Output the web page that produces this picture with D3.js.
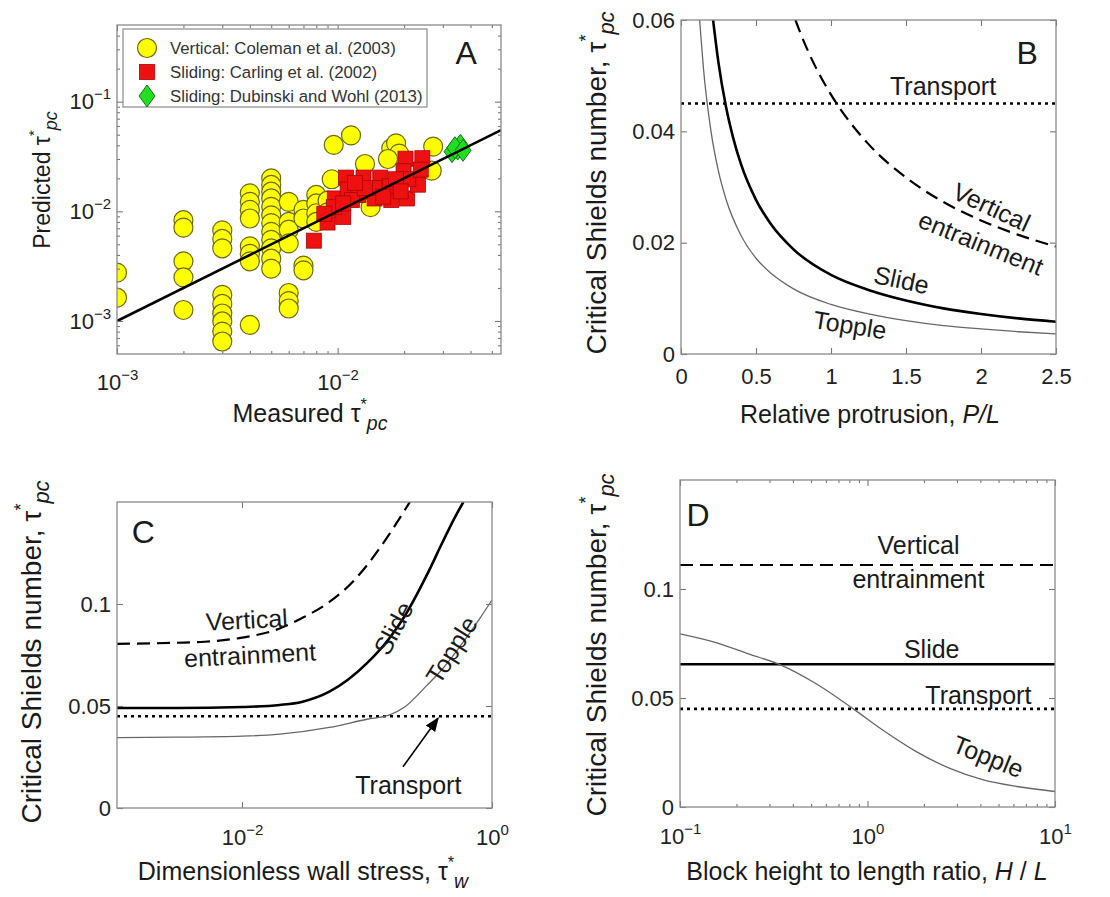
<!DOCTYPE html>
<html>
<head>
<meta charset="utf-8">
<title>Block entrainment thresholds</title>
<style>
body{margin:0;background:#fff;}
svg{font-family:"Liberation Sans",Arial,sans-serif;}
</style>
<script src="https://cdn.jsdelivr.net/npm/d3@7"></script>
</head>
<body>
<script>
// ---------- panel A : measured vs predicted ----------
var colemanPts = [ // Vertical: Coleman et al. (2003)
	[0.001,0.00276],[0.001,0.00163],
	[0.002,0.0083],[0.002,0.0071],[0.002,0.0035],[0.002,0.0025],[0.002,0.00126],
	[0.003,0.0067],[0.003,0.0056],[0.003,0.0046],[0.003,0.00173],[0.003,0.00143],[0.003,0.00117],
	[0.003,0.00099],[0.003,0.0008],[0.003,0.00065],
	[0.004,0.0146],[0.004,0.0122],[0.004,0.0103],[0.004,0.0086],[0.004,0.0048],[0.004,0.0041],
	[0.004,0.0035],[0.004,0.00092],
	[0.005,0.0200],[0.005,0.0174],[0.005,0.0151],[0.005,0.0131],[0.005,0.0110],[0.005,0.0092],
	[0.005,0.0078],[0.005,0.0065],[0.005,0.0055],[0.005,0.0046],[0.005,0.0037],[0.005,0.0030],
	[0.006,0.0122],[0.006,0.0080],[0.006,0.0068],[0.006,0.0051],[0.006,0.0018],[0.006,0.00152],[0.006,0.0013],
	[0.007,0.0103],[0.007,0.0086],[0.007,0.0032],[0.007,0.0029],
	[0.008,0.0141],[0.008,0.0118],[0.008,0.0096],[0.008,0.0080],
	[0.009,0.0125],[0.009,0.0098],
	[0.0096,0.0403],[0.0115,0.0493],[0.0094,0.0196],[0.0133,0.0270],[0.0141,0.0109],
	[0.0175,0.0375],[0.0184,0.0417],[0.0190,0.0336],[0.0169,0.0300],
	[0.0271,0.0389],[0.0267,0.0235]
];
var carlingPts = [ // Sliding: Carling et al. (2002)
	[0.0078,0.0054],[0.0090,0.0079],[0.0106,0.0089],[0.0097,0.0131],[0.0109,0.0203],[0.0131,0.0203],
	[0.0111,0.0158],[0.0124,0.0141],[0.0147,0.0131],[0.0156,0.0203],[0.0175,0.0127],[0.0172,0.0169],
	[0.0203,0.0302],[0.0242,0.0305],[0.0199,0.0232],[0.0206,0.0131],[0.0231,0.0175],[0.0209,0.0196],
	[0.0184,0.0196],[0.0147,0.0163],[0.0116,0.0127],[0.0133,0.0163],[0.0096,0.0109],[0.0087,0.0095],
	[0.0238,0.0240],[0.0161,0.0136],[0.0120,0.0182],[0.0193,0.0152],[0.0106,0.0118]
];
var dubinskiPts = [ // Sliding: Dubinski and Wohl (2013)
	[0.033,0.035],[0.035,0.037],[0.036,0.040],[0.034,0.038],[0.037,0.036]
];
var oneToOne = [[0.001,0.001],[0.055,0.055]];
var legendNames = ["Vertical: Coleman et al. (2003)", "Sliding: Carling et al. (2002)", "Sliding: Dubinski and Wohl (2013)"];

// ---------- panel B : relative protrusion ----------
var protSlide = [[0.214,0.060],[0.25,0.0523],[0.3,0.0444],[0.35,0.0386],[0.4,0.0341],[0.5,0.0277],[0.6,0.0233],
	[0.75,0.0188],[1.0,0.0142],[1.25,0.0115],[1.5,0.0096],[1.75,0.0082],[2.0,0.0072],[2.25,0.0064],[2.5,0.0058]];
var protTopple = [[0.124,0.060],[0.15,0.0512],[0.2,0.0400],[0.25,0.0328],[0.3,0.0278],[0.4,0.0213],[0.5,0.0172],
	[0.6,0.0145],[0.75,0.0117],[1.0,0.0089],[1.25,0.0072],[1.5,0.0060],[1.75,0.0051],[2.0,0.0045],[2.25,0.0040],[2.5,0.0036]];
var protVertical = [[0.763,0.060],[0.8,0.0574],[0.9,0.0514],[1.0,0.0466],[1.25,0.0377],[1.5,0.0317],[1.75,0.0273],
	[2.0,0.0240],[2.25,0.0214],[2.5,0.0193]];
var protTransport = [[0,0.045],[2.5,0.045]];

// ---------- panel C : wall stress ----------
var wallSlide = [[0.001,0.049],[0.003,0.049],[0.01,0.0495],[0.02,0.0505],[0.03,0.052],[0.05,0.057],[0.1,0.071],
	[0.15,0.083],[0.2,0.094],[0.3,0.114],[0.4,0.130],[0.5,0.142],[0.59,0.150]];
var wallVertical = [[0.001,0.0805],[0.003,0.081],[0.005,0.0815],[0.01,0.0835],[0.02,0.088],[0.03,0.093],[0.05,0.101],
	[0.08,0.112],[0.1,0.119],[0.15,0.134],[0.22,0.150]];
var wallTopple = [[0.001,0.0345],[0.003,0.0347],[0.01,0.0352],[0.02,0.0362],[0.05,0.0395],[0.1,0.0435],[0.15,0.0455],
	[0.2,0.0495],[0.3,0.060],[0.4,0.068],[0.6,0.082],[0.8,0.093],[1.0,0.102]];
var wallTransport = [[0.001,0.045],[1,0.045]];

// ---------- panel D : height to length ratio ----------
var ratioTopple = [[0.1,0.0794],[0.157,0.0753],[0.236,0.070],[0.341,0.0653],[0.535,0.0564],[0.84,0.045],[1.21,0.0352],
	[1.83,0.0253],[2.75,0.0177],[4.15,0.0124],[6.25,0.0094],[10,0.0071]];
var ratioSlide = [[0.1,0.0655],[10,0.0655]];
var ratioVertical = [[0.1,0.111],[10,0.111]];
var ratioTransport = [[0.1,0.045],[10,0.045]];

// tick labels
var ticksAx = [1e-3,1e-2], ticksAy = [1e-3,1e-2,1e-1];
var ticksBx = [0,0.5,1,1.5,2,2.5], ticksBy = [0,0.02,0.04,0.06];
var ticksCx = [1e-2,1], ticksCy = [0,0.05,0.1];
var ticksDx = [0.1,1,10], ticksDy = [0,0.05,0.1];

var W = 1110, H = 897;
var svg = d3.select("body").append("svg").attr("width", W).attr("height", H);
var clipN = 0;

function makePanel(b, xs, ys){
	var p = {b:b, x:xs.range([b.l,b.r]), y:ys.range([b.b,b.t])};
	p.g = svg.append("g");
	var id = "clip" + (clipN++);
	p.g.append("clipPath").attr("id", id).append("rect")
		.attr("x", b.l).attr("y", b.t).attr("width", b.r-b.l).attr("height", b.b-b.t);
	p.plot = p.g.append("g").attr("clip-path", "url(#" + id + ")");
	return p;
}

function minorLog(dom){
	var out = [];
	for(var k = -5; k <= 2; k++){
		for(var m = 2; m <= 9; m++){
			var v = m*Math.pow(10,k);
			if(v > dom[0]*1.0001 && v < dom[1]*0.9999) out.push(v);
		}
	}
	return out;
}

function powLabel(d){
	var e = Math.round(Math.log10(d));
	var t = d3.select(this).text(null);
	t.append("tspan").text("10");
	t.append("tspan").attr("dy", -10).attr("font-size", 15).text(e < 0 ? "\u2212" + (-e) : e);
}

function styleAxis(a){
	a.select(".domain").remove();
	a.attr("font-size", 22).attr("font-family", null);
	a.selectAll("line").attr("stroke", "#777").attr("stroke-width", 1.1);
	a.selectAll("text").attr("fill", "#222");
}

function axes(p, o){
	var b = p.b, g = p.g;
	var sides = [
		["bottom", b.b, true, "x", o.xt, o.xf, o.xpad, o.xlog],
		["top", b.t, false, "x", o.xt],
		["left", b.l, true, "y", o.yt, o.yf, 6, o.ylog],
		["right", b.r, false, "y", o.yt]
	];
	function mk(side){
		if(side == "bottom") return d3.axisBottom(p.x);
		if(side == "top") return d3.axisTop(p.x);
		if(side == "left") return d3.axisLeft(p.y);
		return d3.axisRight(p.y);
	}
	sides.forEach(function(s){
		var tr = s[3] == "x" ? "translate(0," + s[1] + ")" : "translate(" + s[1] + ",0)";
		var ax = mk(s[0]).tickValues(s[4]).tickSize(-6);
		if(s[2]) ax.tickPadding(s[6]).tickFormat(s[7] ? function(){return "";} : s[5]);
		else ax.tickFormat("");
		var a = g.append("g").attr("transform", tr).call(ax);
		styleAxis(a);
		if(s[2] && s[7]) a.selectAll(".tick text").each(powLabel);
		var mn = s[3] == "x" ? o.xminor : o.yminor;
		if(mn){
			var a2 = g.append("g").attr("transform", tr).call(mk(s[0]).tickValues(mn).tickSize(-3).tickFormat(""));
			styleAxis(a2);
		}
	});
	g.append("rect").attr("x", b.l).attr("y", b.t).attr("width", b.r-b.l).attr("height", b.b-b.t)
		.attr("fill", "none").attr("stroke", "#8a8a8a").attr("stroke-width", 1.3);
}

function tauText(sel, pre, sub, size){
	sel.attr("font-size", size).attr("fill", "#1a1a1a");
	sel.append("tspan").text(pre + "\u03c4");
	sel.append("tspan").attr("dy", -size*0.5).attr("font-size", size*0.65).text("*");
	sel.append("tspan").attr("dy", size*0.8).attr("font-size", size*0.78)
		.attr("font-style", "italic").text(sub);
}

function drawLine(p, data, kind){
	var line = d3.line().x(function(d){return p.x(d[0]);}).y(function(d){return p.y(d[1]);})
		.curve(d3.curveMonotoneX);
	var path = p.plot.append("path").datum(data).attr("d", line).attr("fill", "none").attr("stroke", "#000");
	if(kind == "slide") path.attr("stroke-width", 2.6);
	if(kind == "topple") path.attr("stroke", "#666").attr("stroke-width", 1.3);
	if(kind == "vertical") path.attr("stroke-width", 2.2).attr("stroke-dasharray", "13,7");
	if(kind == "transport") path.attr("stroke-width", 2.6).attr("stroke-dasharray", "3,4");
	return path;
}

// annotation centred on a data point
function note(p, x, y, txt, rot, size){
	return p.g.append("text")
		.attr("transform", "translate(" + p.x(x) + "," + p.y(y) + ") rotate(" + (rot||0) + ")")
		.attr("text-anchor", "middle").attr("dy", "0.35em")
		.attr("font-size", size||24).attr("fill", "#1a1a1a").text(txt);
}

function yLabel(x, y){
	return svg.append("text").attr("transform", "translate(" + x + "," + y + ") rotate(-90)")
		.attr("text-anchor", "middle");
}

// ================= A =================
var pA = makePanel({l:117, r:501, t:25, b:354}, d3.scaleLog().domain([1e-3,0.055]), d3.scaleLog().domain([5e-4,0.5]));
pA.plot.selectAll(".cole").data(colemanPts).enter().append("circle")
	.attr("cx", function(d){return pA.x(d[0]);}).attr("cy", function(d){return pA.y(d[1]);}).attr("r", 9.5)
	.attr("fill", "#ffff00").attr("stroke", "#6b6b10").attr("stroke-width", 1.2);
pA.plot.selectAll(".carl").data(carlingPts).enter().append("rect")
	.attr("x", function(d){return pA.x(d[0]) - 7.5;}).attr("y", function(d){return pA.y(d[1]) - 7.5;})
	.attr("width", 15).attr("height", 15).attr("fill", "#ee1111").attr("stroke", "#b00000").attr("stroke-width", 0.8);
var diamond = "M0,-11L8,0L0,11L-8,0Z";
pA.plot.selectAll(".dub").data(dubinskiPts).enter().append("path")
	.attr("transform", function(d){return "translate(" + pA.x(d[0]) + "," + pA.y(d[1]) + ")";})
	.attr("d", diamond).attr("fill", "#22dd22").attr("stroke", "#137a13").attr("stroke-width", 1);
pA.plot.append("path").datum(oneToOne)
	.attr("d", d3.line().x(function(d){return pA.x(d[0]);}).y(function(d){return pA.y(d[1]);}))
	.attr("stroke", "#000").attr("stroke-width", 2.6).attr("fill", "none");
axes(pA, {xt:ticksAx, xlog:true, xpad:20, xminor:minorLog([1e-3,0.055]), yt:ticksAy, ylog:true, yminor:minorLog([5e-4,0.5])});

// legend
var lg = pA.g.append("g").attr("transform", "translate(123,29)");
lg.append("rect").attr("width", 304).attr("height", 78).attr("fill", "#fff").attr("stroke", "#8a8a8a").attr("stroke-width", 1.2);
legendNames.forEach(function(name, i){
	var yy = 19 + i*24;
	if(i == 0) lg.append("circle").attr("cx", 24).attr("cy", yy).attr("r", 9.5).attr("fill", "#ffff00").attr("stroke", "#6b6b10").attr("stroke-width", 1.2);
	if(i == 1) lg.append("rect").attr("x", 16.5).attr("y", yy-7.5).attr("width", 15).attr("height", 15).attr("fill", "#ee1111").attr("stroke", "#b00000").attr("stroke-width", 0.8);
	if(i == 2) lg.append("path").attr("transform", "translate(24," + yy + ")").attr("d", diamond).attr("fill", "#22dd22").attr("stroke", "#137a13");
	lg.append("text").attr("x", 47).attr("y", yy + 6).attr("font-size", 16.8).attr("fill", "#333").text(name);
});
note(pA, 0.0382, 0.277, "A", 0, 32);
tauText(svg.append("text").attr("x", 310).attr("y", 422).attr("text-anchor", "middle"), "Measured ", "pc", 25);
tauText(yLabel(50, 180), "Predicted ", "pc", 23);

// ================= B =================
var pB = makePanel({l:681, r:1056, t:20, b:354}, d3.scaleLinear().domain([0,2.5]), d3.scaleLinear().domain([0,0.06]));
drawLine(pB, protTransport, "transport");
drawLine(pB, protVertical, "vertical");
drawLine(pB, protTopple, "topple");
drawLine(pB, protSlide, "slide");
axes(pB, {xt:ticksBx, xf:d3.format("~g"), xpad:14, yt:ticksBy, yf:function(d){return d == 0 ? "0" : d3.format(".2f")(d);}});
note(pB, 1.747, 0.0481, "Transport", 0, 25);
note(pB, 2.07, 0.0264, "Vertical", 25, 25);
note(pB, 2.0, 0.0199, "entrainment", 22, 25);
note(pB, 1.47, 0.0133, "Slide", 12, 25);
note(pB, 1.127, 0.0052, "Topple", 9, 25);
note(pB, 2.307, 0.0541, "B", 0, 32);
svg.append("text").attr("x", 870).attr("y", 423).attr("text-anchor", "middle").attr("font-size", 25).attr("fill", "#1a1a1a")
	.call(function(t){t.append("tspan").text("Relative protrusion, "); t.append("tspan").attr("font-style", "italic").text("P/L");});
tauText(yLabel(606, 183), "Critical Shields number, ", "pc", 28);

// ================= C =================
var pC = makePanel({l:117, r:492, t:502, b:808}, d3.scaleLog().domain([1e-3,1]), d3.scaleLinear().domain([0,0.15]));
drawLine(pC, wallTransport, "transport");
drawLine(pC, wallVertical, "vertical");
drawLine(pC, wallTopple, "topple");
drawLine(pC, wallSlide, "slide");
axes(pC, {xt:ticksCx, xlog:true, xpad:21, yt:ticksCy, yf:function(d){return d == 0 ? "0" : d3.format("~g")(d);}});
note(pC, 0.0109, 0.0922, "Vertical", -3, 25);
note(pC, 0.0116, 0.075, "entrainment", -3, 25);
note(pC, 0.163, 0.0881, "Slide", -62, 25);
note(pC, 0.476, 0.0775, "Topple", -58, 25);
note(pC, 0.214, 0.0113, "Transport", 0, 25);
note(pC, 0.00162, 0.1354, "C", 0, 32);
svg.append("defs").append("marker").attr("id", "arr").attr("viewBox", "0 0 10 10").attr("refX", 9).attr("refY", 5)
	.attr("markerWidth", 9).attr("markerHeight", 9).attr("orient", "auto")
	.append("path").attr("d", "M0,1L10,5L0,9Z").attr("fill", "#000");
pC.g.append("line").attr("x1", pC.x(0.194)).attr("y1", pC.y(0.0202)).attr("x2", pC.x(0.37)).attr("y2", pC.y(0.044))
	.attr("stroke", "#000").attr("stroke-width", 1.6).attr("marker-end", "url(#arr)");
tauText(svg.append("text").attr("x", 303).attr("y", 880).attr("text-anchor", "middle"), "Dimensionless wall stress, ", "w", 25);
tauText(yLabel(41, 652), "Critical Shields number, ", "pc", 28);

// ================= D =================
var pD = makePanel({l:680, r:1055, t:480, b:807}, d3.scaleLog().domain([0.1,10]), d3.scaleLinear().domain([0,0.15]));
drawLine(pD, ratioTransport, "transport");
drawLine(pD, ratioVertical, "vertical");
drawLine(pD, ratioSlide, "slide");
drawLine(pD, ratioTopple, "topple");
axes(pD, {xt:ticksDx, xlog:true, xpad:21, xminor:minorLog([0.1,10]), yt:ticksDy, yf:function(d){return d == 0 ? "0" : d3.format("~g")(d);}});
note(pD, 1.87, 0.1202, "Vertical", 0, 25);
note(pD, 1.87, 0.1044, "entrainment", 0, 25);
note(pD, 2.2, 0.0725, "Slide", 0, 25);
note(pD, 3.9, 0.0514, "Transport", 0, 25);
note(pD, 4.4, 0.0231, "Topple", 22, 25);
note(pD, 0.125, 0.134, "D", 0, 32);
svg.append("text").attr("x", 867).attr("y", 880).attr("text-anchor", "middle").attr("font-size", 25).attr("fill", "#1a1a1a")
	.call(function(t){
		t.append("tspan").text("Block height to length ratio, ");
		t.append("tspan").attr("font-style", "italic").text("H");
		t.append("tspan").text(" / ");
		t.append("tspan").attr("font-style", "italic").text("L");
	});
tauText(yLabel(606, 645), "Critical Shields number, ", "pc", 28);
</script>
</body>
</html>
